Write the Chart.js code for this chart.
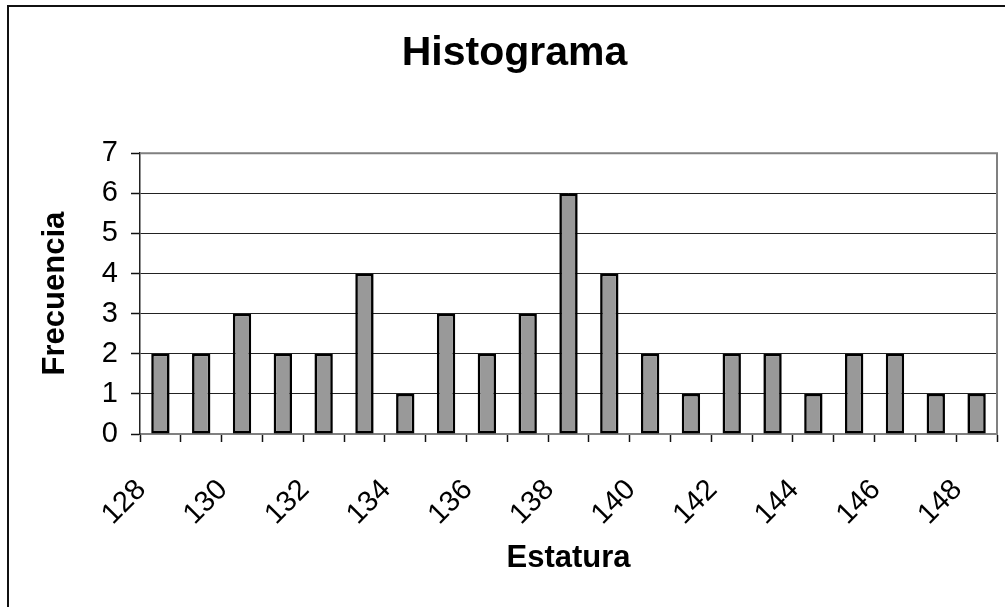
<!DOCTYPE html>
<html>
<head>
<meta charset="utf-8">
<title>Histograma</title>
<script src="https://cdn.jsdelivr.net/npm/chart.js"></script>
<style>
  html, body { margin: 0; padding: 0; background: #fff; overflow: hidden; }
  #wrap { position: absolute; left: 0; top: 0; width: 1005px; height: 607px; }
  #frame { position: absolute; left: 7px; top: 5px; width: 1010px; height: 620px;
           border: 2px solid #111; pointer-events: none; }
</style>
</head>
<body>
<div id="wrap"><canvas id="chart"></canvas></div>
<div id="frame"></div>
<script>
// Estatura (categories) and frecuencia (bar heights)
const categories = ['128', '129', '130', '131', '132', '133', '134', '135', '136', '137', '138',
                    '139', '140', '141', '142', '143', '144', '145', '146', '147', '148'];
const frecuencia = [2, 2, 3, 2, 2, 4, 1, 3, 2, 3, 6, 4, 2, 1, 2, 2, 1, 2, 2, 1, 1];
// only every other category gets a label on the x axis
const xTickLabels = ['128', '130', '132', '134', '136', '138', '140', '142', '144', '146', '148'];
const yTicks = [0, 1, 2, 3, 4, 5, 6, 7];

const FONT = "'Liberation Sans', Arial, sans-serif";

// grey frame around the plot area (top and right side)
const plotFrame = {
  id: 'plotFrame',
  beforeDatasetsDraw(chart) {
    const { ctx, chartArea: a } = chart;
    ctx.save();
    ctx.strokeStyle = '#808080';
    ctx.lineWidth = 2;
    ctx.beginPath();
    ctx.moveTo(a.left, a.top);
    ctx.lineTo(a.right, a.top);
    ctx.lineTo(a.right, a.bottom);
    ctx.stroke();
    ctx.restore();
  }
};

new Chart(document.getElementById('chart'), {
  type: 'bar',
  data: {
    labels: categories,
    datasets: [{
      label: 'Frecuencia',
      data: frecuencia,
      backgroundColor: '#999999',
      borderColor: '#000000',
      borderWidth: 2.6,
      borderSkipped: false,
      categoryPercentage: 1,
      barPercentage: 0.45
    }]
  },
  options: {
    responsive: true,
    maintainAspectRatio: false,
    animation: false,
    layout: { padding: { left: 32, right: 8, top: 0, bottom: 0 } },
    plugins: {
      legend: { display: false },
      tooltip: { enabled: false },
      title: {
        display: true,
        text: 'Histograma',
        color: '#000',
        font: { family: FONT, size: 41, weight: 'bold', lineHeight: 1.2 },
        padding: { top: 29, bottom: 75 }
      }
    },
    scales: {
      x: {
        grid: {
          display: true,
          drawOnChartArea: false,
          drawTicks: true,
          tickLength: 8,
          tickColor: '#111',
          tickWidth: 1.5,
          offset: true
        },
        border: { display: true, color: '#808080', width: 2 },
        ticks: {
          autoSkip: false,
          maxRotation: 45,
          minRotation: 45,
          padding: 31,
          labelOffset: -19,
          color: '#000',
          font: { family: FONT, size: 29 },
          callback(val) {
            const lbl = this.getLabelForValue(val);
            return xTickLabels.includes(lbl) ? lbl : '';
          }
        },
        title: {
          display: true,
          text: 'Estatura',
          color: '#000',
          font: { family: FONT, size: 31, weight: 'bold', lineHeight: 1.2 },
          padding: { top: 10, bottom: 30 }
        },
        afterFit(scale) {
          scale.height = 173;
          scale.paddingLeft = 0;
          scale.paddingRight = 0;
        }
      },
      y: {
        min: yTicks[0],
        max: yTicks[yTicks.length - 1],
        grid: {
          color: '#222',
          lineWidth: 1,
          drawTicks: true,
          tickLength: 9,
          tickColor: '#111',
          tickWidth: 1.5
        },
        border: { display: true, color: '#222', width: 1.5 },
        ticks: {
          stepSize: 1,
          padding: 13,
          color: '#000',
          font: { family: FONT, size: 29 }
        },
        title: {
          display: true,
          text: 'Frecuencia',
          color: '#000',
          font: { family: FONT, size: 31, weight: 'bold', lineHeight: 1.2 },
          padding: { top: 5, bottom: 0 }
        },
        afterFit(scale) {
          scale.width = 108;
          scale.paddingTop = 0;
          scale.paddingBottom = 0;
        }
      }
    }
  },
  plugins: [plotFrame]
});
</script>
</body>
</html>
